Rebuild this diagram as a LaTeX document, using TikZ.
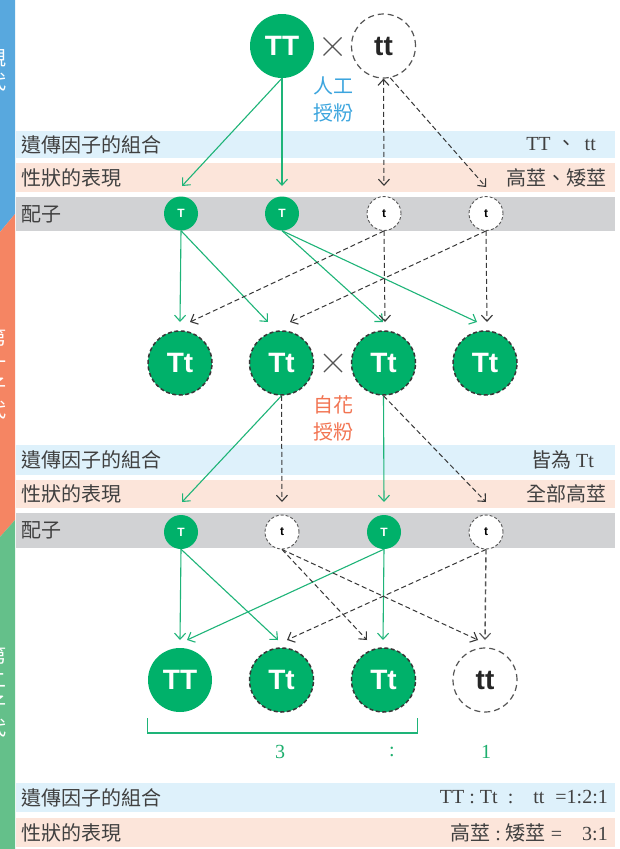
\documentclass[tikz,border=0pt]{standalone}
\usepackage{fontspec}
\setmainfont{Liberation Serif}
\newfontfamily\cjk{Noto Sans CJK TC}
\newfontfamily\circf{Liberation Sans}
\usetikzlibrary{arrows.meta}
\definecolor{cg}{RGB}{0,177,106}
\definecolor{lg}{RGB}{30,180,120}
\definecolor{dk}{RGB}{55,55,55}
\definecolor{dk2}{RGB}{85,85,85}
\definecolor{rowblue}{RGB}{222,241,251}
\definecolor{rowpeach}{RGB}{252,229,218}
\definecolor{rowgray}{RGB}{209,210,212}
\definecolor{barblue}{RGB}{88,168,222}
\definecolor{barorange}{RGB}{245,133,99}
\definecolor{bargreen}{RGB}{100,192,138}
\definecolor{txt}{RGB}{64,64,64}
\definecolor{bluetxt}{RGB}{60,165,222}
\definecolor{orangetxt}{RGB}{242,116,82}
\definecolor{numgreen}{RGB}{30,175,110}
\tikzset{
  tipg/.tip={Straight Barb[length=6pt,width=11pt,line width=1.1pt]},
  gline/.style={draw=lg, line width=1.1pt, -tipg},
  dline/.style={draw=dk, line width=1pt, dash pattern=on 5pt off 3pt, -tipg},
  big/.style={circle, minimum size=64pt, inner sep=0pt, font=\circf\bfseries\fontsize{28}{28}\selectfont},
  gsolid/.style={big, fill=cg, text=white},
  gdash/.style={big, fill=cg, text=white, draw=dk, line width=1.5pt, dash pattern=on 4pt off 2.5pt},
  wdash/.style={big, fill=white, text=black!85, draw=dk2, line width=1.2pt, dash pattern=on 6pt off 4pt},
  gam/.style={circle, minimum size=34pt, inner sep=0pt, font=\circf\bfseries\fontsize{12}{12}\selectfont},
  gamg/.style={gam, fill=cg, text=white},
  gamw/.style={gam, fill=white, text=black, draw=dk2, line width=0.9pt, dash pattern=on 3pt off 2pt},
  lab/.style={anchor=west, text=txt, font=\cjk\fontsize{20}{20}\selectfont, inner sep=0pt},
  rlab/.style={anchor=east, text=txt, font=\fontsize{20}{20}\selectfont, inner sep=0pt},
  side/.style={text=white, font=\cjk\fontsize{20}{24}\selectfont, align=center, inner sep=0pt},
  cross/.style={draw=dk2, line width=1.1pt},
  mid/.style={font=\cjk\fontsize{20}{27}\selectfont, align=center, inner sep=0pt},
}
\begin{document}
\begin{tikzpicture}[x=1pt,y=-1pt]
\clip (0,0) rectangle (620,849);
\fill[white] (0,0) rectangle (620,849);
% left bars
\fill[barblue] (0,0) -- (15,0) -- (15,214) -- (0,232) -- cycle;
\fill[barorange] (0,232) -- (15,214) -- (15,520) -- (0,537) -- cycle;
\fill[bargreen] (0,537) -- (15,520) -- (15,849) -- (0,849) -- cycle;
\node[side] (s1) at (-3.5,70) {親\\代};
\node[side] (s2) at (-3.5,374) {第\\一\\子\\代};
\node[side] (s3) at (-3.5,692) {第\\二\\子\\代};
% rows
\fill[rowblue] (16,131) rectangle (615,158);
\fill[rowpeach] (16,163) rectangle (615,192);
\fill[rowgray] (16,197) rectangle (615,231);
\fill[rowblue] (16,445) rectangle (615,475);
\fill[rowpeach] (16,480) rectangle (615,508);
\fill[rowgray] (16,513) rectangle (615,548);
\fill[rowblue] (16,783) rectangle (615,812);
\fill[rowpeach] (16,818) rectangle (615,847);
% row labels
\node[lab] (l1) at (21,144.5) {遺傳因子的組合};
\node[lab] (l2) at (21,177.5) {性狀的表現};
\node[lab] (l3) at (21,214) {配子};
\node[lab] (l4) at (21,460) {遺傳因子的組合};
\node[lab] (l5) at (21,494) {性狀的表現};
\node[lab] (l6) at (21,530.5) {配子};
\node[lab] (l7) at (21,797.5) {遺傳因子的組合};
\node[lab] (l8) at (21,832.5) {性狀的表現};
\node[rlab] (r1) at (596,144.5) {TT\hspace{6pt}{\cjk 、}\hspace{8pt}tt};
\node[rlab] (r2) at (607,177.5) {\cjk 高莖、矮莖};
\node[rlab] (r4) at (594,460) {{\cjk 皆為} Tt};
\node[rlab] (r5) at (607,494) {\cjk 全部高莖};
\node[rlab] (r7) at (608,797.5) {TT\ :\ Tt\ \ :\hspace{20pt}tt\hspace{11pt}=1:2:1};
\node[rlab] (r8) at (608,832.5) {{\cjk 高莖}\ :\ {\cjk 矮莖}\ =\hspace{20pt}3:1};
% parents
\node[gsolid] (P1) at (282,46) {TT};
\node[wdash] (P2) at (383.5,46) {tt};
\draw[cross] (323.5,37.5) -- (341.5,55.5) (323.5,55.5) -- (341.5,37.5);
\node[mid, text=bluetxt] (m1) at (333,99) {人工\\授粉};
% gametes 1
\node[gamg] (G1) at (181,213.5) {T};
\node[gamg] (G2) at (282,213.5) {T};
\node[gamw] (G3) at (384,213.5) {t};
\node[gamw] (G4) at (486,213.5) {t};
% F1
\node[gdash] (F1) at (180,363) {Tt};
\node[gdash] (F2) at (281.5,363) {Tt};
\node[gdash] (F3) at (383.5,363) {Tt};
\node[gdash] (F4) at (485,363) {Tt};
\draw[cross] (324,354) -- (342,372) (324,372) -- (342,354);
\node[mid, text=orangetxt] (m2) at (333,418) {自花\\授粉};
% gametes 2
\node[gamg] (H1) at (181,532) {T};
\node[gamw] (H2) at (282,532) {t};
\node[gamg] (H3) at (384,532) {T};
\node[gamw] (H4) at (486,532) {t};
% F2
\node[gsolid] (E1) at (180,680) {TT};
\node[gdash] (E2) at (281.5,680) {Tt};
\node[gdash] (E3) at (383.5,680) {Tt};
\node[wdash] (E4) at (485,680) {tt};
% coordinates
\coordinate (a1) at (182,186);
\coordinate (a2) at (282,186);
\coordinate (a3) at (384,186);
\coordinate (a4) at (486,187);
\coordinate (b1) at (180,322);
\coordinate (b2) at (190,322);
\coordinate (b3) at (268,322);
\coordinate (b4) at (290,322);
\coordinate (b5) at (383,322);
\coordinate (b6) at (385,322);
\coordinate (b7) at (477,322);
\coordinate (b8) at (487,322);
\coordinate (c1) at (182,502);
\coordinate (c2) at (282,502);
\coordinate (c3) at (384,502);
\coordinate (c4) at (486,502);
\coordinate (d1) at (180,640);
\coordinate (d2) at (187,640);
\coordinate (d3) at (278,640);
\coordinate (d4) at (287,640);
\coordinate (d5) at (367,640);
\coordinate (d6) at (383,640);
\coordinate (d7) at (478,640);
\coordinate (d8) at (485,640);
% arrows parents -> gametes
\draw[gline] (P1.south) -- (a1);
\draw[gline] (P1.south) -- (a2);
\draw[dline, tipg-tipg] (P2.south) -- (a3);
\draw[dline] (P2.-78) -- (a4);
% gametes -> F1
\draw[gline] (G1.south) -- (b1);
\draw[gline] (G1.south) -- (b3);
\draw[gline] (G2.south) -- (b5);
\draw[gline] (G2.south) -- (b7);
\draw[dline] (G3.south) -- (b6);
\draw[dline] (G3.south) -- (b2);
\draw[dline] (G4.south) -- (b8);
\draw[dline] (G4.south) -- (b4);
% F1 -> gametes
\draw[gline] (F2.south) -- (c1);
\draw[dline] (F2.south) -- (c2);
\draw[gline] (F3.south) -- (c3);
\draw[dline] (F3.south) -- (c4);
% gametes -> F2
\draw[gline] (H1.south) -- (d1);
\draw[gline] (H1.south) -- (d3);
\draw[gline] (H3.south) -- (d2);
\draw[gline] (H3.south) -- (d6);
\draw[dline] (H2.south) -- (d5);
\draw[dline] (H2.south) -- (d7);
\draw[dline] (H4.south) -- (d4);
\draw[dline, draw=dk2, line width=1.4pt] (H4.south) -- (d8);
% bracket and ratio
\coordinate (k1) at (147.5,718);
\coordinate (k2) at (417.5,718);
\draw[lg, line width=1.1pt] (k1) |- (k2 |- 0,733) -- (k2);
\node[text=numgreen, font=\fontsize{20}{20}\selectfont] (n1) at (280,752) {3};
\node[text=numgreen, font=\fontsize{20}{20}\selectfont] (n2) at (392,752) {:};
\node[text=numgreen, font=\fontsize{20}{20}\selectfont] (n3) at (486,752) {1};
\end{tikzpicture}
\end{document}
